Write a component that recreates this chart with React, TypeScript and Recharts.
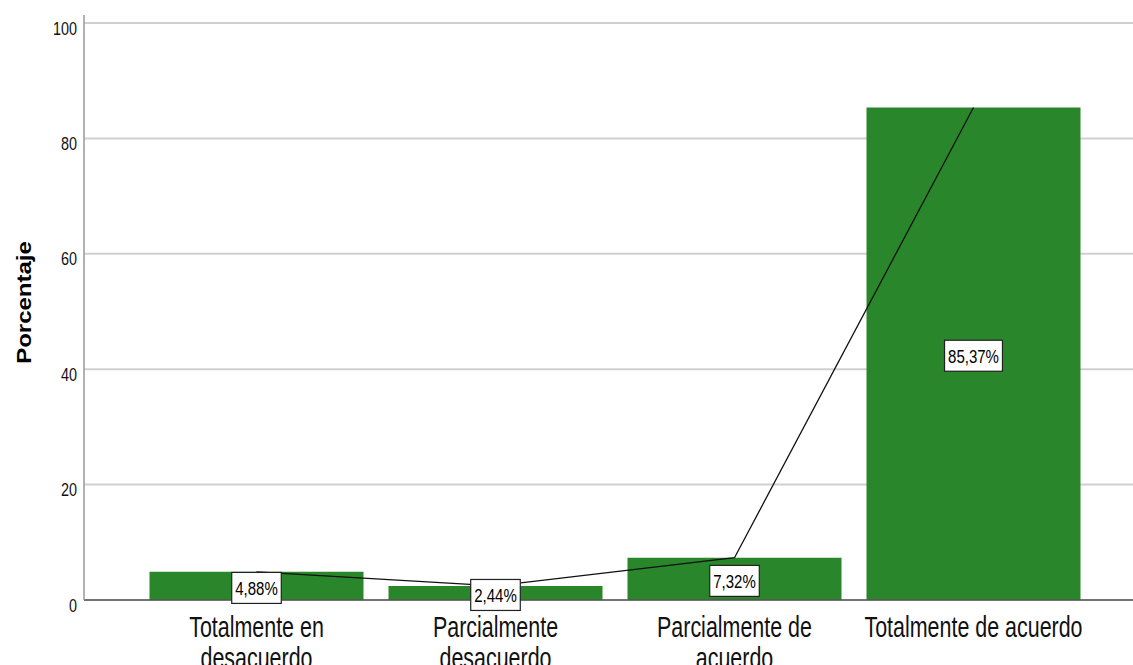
import React from "react";
import {
  ComposedChart,
  Bar,
  Line,
  XAxis,
  YAxis,
  CartesianGrid,
  LabelList,
} from "recharts";

const categories = [
  "Totalmente en desacuerdo",
  "Parcialmente desacuerdo",
  "Parcialmente de acuerdo",
  "Totalmente de acuerdo",
];
const tickLines = [
  ["Totalmente en", "desacuerdo"],
  ["Parcialmente", "desacuerdo"],
  ["Parcialmente de", "acuerdo"],
  ["Totalmente de acuerdo"],
];
const percentages = [4.88, 2.44, 7.32, 85.37];
const valueLabels = ["4,88%", "2,44%", "7,32%", "85,37%"];
const yTicks = [0, 20, 40, 60, 80, 100];

const data = categories.map((c, i) => ({
  name: c,
  value: percentages[i],
  mid: percentages[i] / 2,
}));

const FONT = "'Liberation Sans', Arial, sans-serif";
const BAR_COLOR = "#2a862a";

const charW: Record<string, number> = { ",": 0.278, "%": 0.889 };
const textWidth = (s: string, size: number) =>
  s.split("").reduce((a, ch) => a + (charW[ch] ?? 0.556), 0) * size;

const XTick = (props: any) => {
  const { x, y, index } = props;
  const lines = tickLines[index] || [String(props.payload?.value ?? "")];
  return (
    <g>
      {lines.map((ln, i) => (
        <text
          key={i}
          transform={`translate(${x},${y + 37 + i * 31}) scale(0.715,1)`}
          textAnchor="middle"
          fontSize={30}
          fontFamily={FONT}
          fill="#111"
        >
          {ln}
        </text>
      ))}
    </g>
  );
};

const YTick = (props: any) => {
  const { x, y, payload } = props;
  return (
    <text
      transform={`translate(${x},${y + 11.5}) scale(0.8,1)`}
      textAnchor="end"
      fontSize={18}
      fontFamily={FONT}
      fill="#111"
    >
      {payload.value}
    </text>
  );
};

const YLabel = (props: any) => {
  const vb = props.viewBox || { x: 0, y: 15, width: 84, height: 585 };
  const cy = vb.y + vb.height / 2 - 5;
  return (
    <text
      transform={`translate(31,${cy}) rotate(-90) scale(1.2,1)`}
      textAnchor="middle"
      fontSize={20}
      fontWeight="bold"
      fontFamily={FONT}
      fill="#000"
    >
      Porcentaje
    </text>
  );
};

const BoxLabel = (props: any) => {
  const { x, y, index } = props;
  const label = valueLabels[index];
  const fs = 19;
  const sx = 0.79;
  const w = textWidth(label, fs) * sx + 7;
  const h = 31;
  const cy = y + 2;
  return (
    <g>
      <rect
        x={x - w / 2}
        y={cy - h / 2}
        width={w}
        height={h}
        fill="#fff"
        stroke="#222"
        strokeWidth={1.2}
      />
      <text
        transform={`translate(${x},${cy + 7}) scale(${sx},1)`}
        textAnchor="middle"
        fontSize={fs}
        fontFamily={FONT}
        fill="#000"
      >
        {label}
      </text>
    </g>
  );
};

export default function App() {
  return (
    <div style={{ position: "absolute", left: 0, top: 0, width: 1133, height: 665, background: "#fff" }}>
      <ComposedChart
        width={1133}
        height={665}
        data={data}
        margin={{ top: 15, right: 0, bottom: 0, left: 0 }}
        barCategoryGap={12.5}
      >
        <CartesianGrid
          vertical={false}
          horizontalValues={yTicks}
          stroke="#d0d0d0"
          strokeWidth={2}
        />
        <XAxis
          dataKey="name"
          height={65}
          padding={{ left: 53, right: 40 }}
          tickLine={false}
          tickSize={0}
          tickMargin={0}
          axisLine={{ stroke: "#555", strokeWidth: 1.5 }}
          tick={<XTick />}
          interval={0}
        />
        <YAxis
          width={84}
          domain={[0, 101.4]}
          ticks={yTicks}
          tickLine={false}
          tickSize={0}
          tickMargin={7}
          axisLine={{ stroke: "#999", strokeWidth: 1.5 }}
          tick={<YTick />}
          label={<YLabel />}
        />
        <Bar dataKey="value" fill={BAR_COLOR} isAnimationActive={false} />
        <Line
          type="linear"
          dataKey="value"
          stroke="#111"
          strokeWidth={1.3}
          dot={false}
          activeDot={false}
          isAnimationActive={false}
        />
        <Line
          type="linear"
          dataKey="mid"
          stroke="none"
          dot={false}
          activeDot={false}
          isAnimationActive={false}
        >
          <LabelList dataKey="mid" content={<BoxLabel />} />
        </Line>
      </ComposedChart>
    </div>
  );
}
